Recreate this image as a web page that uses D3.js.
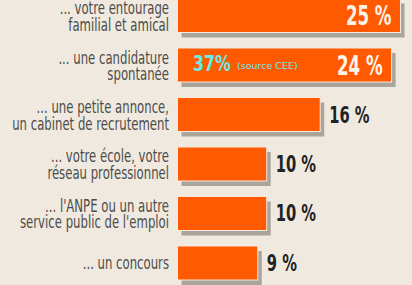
<!DOCTYPE html>
<html>
<head>
<meta charset="utf-8">
<script src="https://cdn.jsdelivr.net/npm/d3@7"></script>
<style>
  html, body { margin: 0; padding: 0; background: #efe9e0; }
  #chart { width: 412px; height: 285px; overflow: hidden; }
  .lbl { font-family: "DejaVu Sans", sans-serif; font-size: 17px; fill: #4d4c49; }
  .val { font-family: "DejaVu Sans", sans-serif; font-weight: bold; }
</style>
</head>
<body>
<div id="chart"></div>
<script>
  // data
  const labels = [
    ["... votre entourage", "familial et amical"],
    ["... une candidature", "spontanée"],
    ["... une petite annonce,", "un cabinet de recrutement"],
    ["... votre école, votre", "réseau professionnel"],
    ["... l'ANPE ou un autre", "service public de l'emploi"],
    ["... un concours"]
  ];
  const values = [25, 24, 16, 10, 10, 9];
  const valueText = ["25 %", "24 %", "16 %", "10 %", "10 %", "9 %"];
  const note = { row: 1, big: "37%", small: "(source CEE)" };

  const W = 412, H = 285;
  const svg = d3.select("#chart").append("svg").attr("width", W).attr("height", H);

  const x = d3.scaleLinear().domain([0, 25]).range([177.5, 400.5]);
  const y = d3.scaleBand().domain(d3.range(values.length)).range([-1.5, 280]).paddingInner(0.313).paddingOuter(0);
  const bh = y.bandwidth();

  const LABEL_RIGHT = 169;
  const VAL_SQUEEZE = 0.64;

  const rows = svg.selectAll("g.row").data(values).join("g").attr("class", "row");

  // drop shadow
  rows.append("rect")
    .attr("x", x(0) + 4).attr("y", (d, i) => y(i) + 5)
    .attr("width", d => x(d) - x(0)).attr("height", bh)
    .attr("fill", "#aaa59c");

  // bar with thin light outline
  rows.append("rect")
    .attr("x", x(0)).attr("y", (d, i) => y(i))
    .attr("width", d => x(d) - x(0)).attr("height", bh)
    .attr("fill", "#ff5a00").attr("stroke", "#fbe9dc").attr("stroke-width", 1);

  // category labels (source face is condensed: squeeze so the widest line spans x 12..169)
  const probe = svg.append("text").attr("class", "lbl").text(labels[2][1]);
  const squeeze = (LABEL_RIGHT - 12) / probe.node().getComputedTextLength();
  probe.remove();

  rows.each(function (d, i) {
    const cy = y(i) + bh / 2;
    const lines = labels[i];
    lines.forEach((s, k) => {
      const base = lines.length === 1 ? cy + 6 : cy - 1.5 + k * 16.5;
      d3.select(this).append("text").attr("class", "lbl")
        .attr("text-anchor", "end")
        .attr("transform", `translate(${LABEL_RIGHT},${base}) scale(${squeeze},1)`)
        .text(s);
    });
  });

  // value labels: inside for the two long bars, outside otherwise
  rows.append("text")
    .attr("class", "val")
    .attr("text-anchor", d => d >= 20 ? "end" : "start")
    .attr("transform", (d, i) => {
      const tx = d >= 20 ? x(d) - 9 : x(d) + 9;
      const ty = y(i) + bh / 2 + (d >= 20 ? 9.5 : 8);
      return `translate(${tx},${ty}) scale(${VAL_SQUEEZE},1)`;
    })
    .attr("font-size", d => d >= 20 ? 26 : 23)
    .attr("fill", d => d >= 20 ? "#fff4ea" : "#222")
    .text((d, i) => valueText[i]);

  // note inside second bar
  const ny = y(note.row) + bh / 2;
  svg.append("text")
    .attr("transform", `translate(193,${ny + 5.5}) scale(0.75,1)`)
    .attr("font-family", "'DejaVu Sans', sans-serif").attr("font-weight", "bold")
    .attr("font-size", 21).attr("fill", "#66ecea").text(note.big);
  svg.append("text").attr("x", 237).attr("y", ny + 4)
    .attr("font-family", "'DejaVu Sans', sans-serif")
    .attr("font-size", 9.5).attr("fill", "#66ecea").text(note.small);
</script>
</body>
</html>
